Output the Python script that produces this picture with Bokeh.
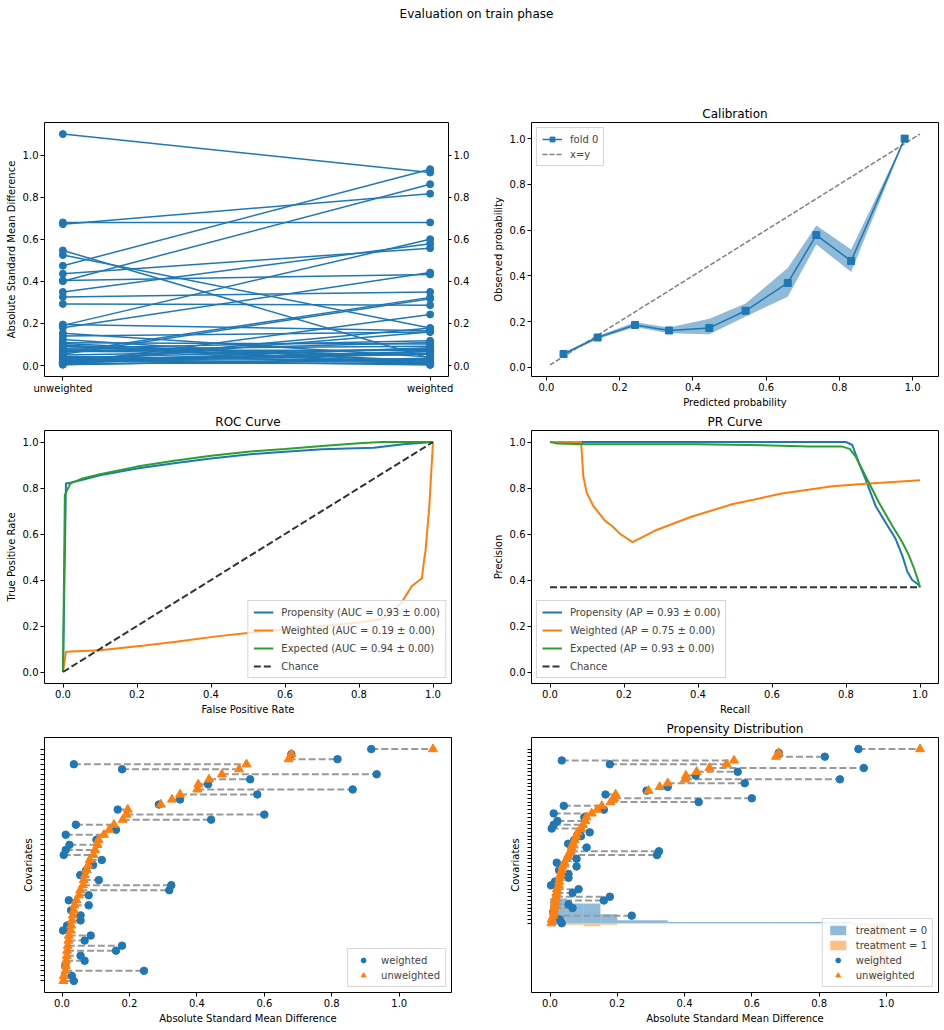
from bokeh.plotting import figure
from bokeh.models import (Range1d, FixedTicker, LinearAxis, Legend, LegendItem,
                          Label, PrintfTickFormatter, CustomJSTickFormatter)
from bokeh.layouts import column, row
from bokeh.embed import file_html
from bokeh.resources import INLINE

FONT = "DejaVu Sans"
BLUE, ORANGE, GREEN = "#1f77b4", "#ff7f0e", "#2ca02c"

# ---------------------------------------------------------------- data
# Absolute standardized mean difference per covariate, ordered by the
# unweighted value (smallest first)
smd_unweighted = [0.004, 0.005, 0.010, 0.011, 0.012, 0.014, 0.015, 0.017, 0.019, 0.020,
                  0.026, 0.027, 0.029, 0.032, 0.035, 0.037, 0.043, 0.050, 0.054, 0.062,
                  0.064, 0.068, 0.073, 0.078, 0.082, 0.093, 0.098, 0.105, 0.108, 0.124,
                  0.140, 0.154, 0.180, 0.191, 0.195, 0.293, 0.326, 0.350, 0.401, 0.404,
                  0.436, 0.474, 0.525, 0.547, 0.672, 0.680, 1.100]
smd_weighted = [0.035, 0.029, 0.243, 0.010, 0.067, 0.055, 0.160, 0.178, 0.067, 0.085,
                0.003, 0.015, 0.055, 0.055, 0.027, 0.079, 0.020, 0.079, 0.318, 0.324,
                0.109, 0.054, 0.072, 0.092, 0.118, 0.005, 0.011, 0.022, 0.102, 0.011,
                0.160, 0.041, 0.442, 0.600, 0.165, 0.287, 0.350, 0.579, 0.862, 0.433,
                0.558, 0.933, 0.178, 0.035, 0.817, 0.680, 0.917]
covariate_rows = list(range(len(smd_unweighted)))
balance_labels = ["unweighted", "weighted"]

# Calibration (fold 0)
calib_pred = [0.047, 0.140, 0.242, 0.335, 0.445, 0.544, 0.659, 0.737, 0.832, 0.978]
calib_obs = [0.058, 0.130, 0.185, 0.161, 0.172, 0.247, 0.369, 0.578, 0.465, 1.000]
calib_lo = [0.054, 0.124, 0.176, 0.149, 0.144, 0.222, 0.308, 0.537, 0.417, 0.995]
calib_hi = [0.063, 0.137, 0.197, 0.174, 0.212, 0.279, 0.434, 0.620, 0.515, 1.000]
calib_diag = [0.01, 1.02]

# ROC curves
roc_prop_fpr = [0.0, 0.008, 0.02, 0.05, 0.10, 0.20, 0.30, 0.40, 0.50, 0.60, 0.70, 0.84, 0.92, 1.0]
roc_prop_tpr = [0.0, 0.820, 0.823, 0.835, 0.855, 0.885, 0.908, 0.928, 0.946, 0.958, 0.968, 0.975, 0.990, 1.0]
roc_wt_fpr = [0.0, 0.008, 0.10, 0.22, 0.30, 0.42, 0.50, 0.60, 0.70, 0.80, 0.862, 0.90, 0.916,
              0.943, 0.964, 0.970, 0.976, 0.980, 0.990, 1.0]
roc_wt_tpr = [0.0, 0.088, 0.095, 0.115, 0.130, 0.156, 0.170, 0.185, 0.200, 0.215, 0.230, 0.280,
              0.305, 0.374, 0.400, 0.407, 0.488, 0.530, 0.720, 1.0]
roc_exp_fpr = [0.0, 0.005, 0.02, 0.05, 0.10, 0.20, 0.30, 0.40, 0.50, 0.60, 0.70, 0.80, 0.86, 1.0]
roc_exp_tpr = [0.0, 0.770, 0.820, 0.840, 0.860, 0.893, 0.918, 0.940, 0.958, 0.970, 0.983, 0.995, 1.0, 1.0]
roc_auc = {"Propensity": 0.93, "Weighted": 0.19, "Expected": 0.94}

# Precision-recall curves
pr_prop_rec = [0.0, 0.2, 0.4, 0.6, 0.78, 0.80, 0.817, 0.835, 0.853, 0.88, 0.907, 0.934,
               0.952, 0.966, 0.979, 0.997, 1.0]
pr_prop_prec = [1.0, 1.0, 1.0, 1.0, 1.0, 1.0, 0.987, 0.908, 0.837, 0.722, 0.650, 0.579,
                0.507, 0.436, 0.400, 0.378, 0.368]
pr_wt_rec = [0.0, 0.084, 0.090, 0.099, 0.117, 0.149, 0.167, 0.190, 0.223, 0.284, 0.384,
             0.492, 0.627, 0.763, 0.853, 1.0]
pr_wt_prec = [1.0, 1.0, 0.851, 0.780, 0.722, 0.657, 0.636, 0.600, 0.565, 0.615, 0.676,
              0.729, 0.776, 0.808, 0.818, 0.834]
pr_exp_rec = [0.0, 0.02, 0.10, 0.40, 0.60, 0.70, 0.79, 0.81, 0.826, 0.853, 0.889, 0.925,
              0.952, 0.970, 0.984, 0.993, 1.0]
pr_exp_prec = [1.0, 0.993, 0.990, 0.990, 0.985, 0.980, 0.980, 0.970, 0.937, 0.851, 0.737,
               0.636, 0.565, 0.507, 0.450, 0.407, 0.368]
pr_ap = {"Propensity": 0.93, "Weighted": 0.75, "Expected": 0.93}
pr_chance = 0.368

# Propensity histogram (density, bins of width 0.05)
hist_edges = [0.00, 0.05, 0.10, 0.15, 0.20, 0.25, 0.30, 0.35, 0.40, 0.45, 0.50,
              0.55, 0.60, 0.65, 0.70, 0.75, 0.80, 0.85, 0.90, 0.95, 1.00]
hist_treat0 = [6.5, 5.2, 5.2, 2.4, 0.8, 0.8, 0.8, 0.3, 0.3, 0.3, 0.3,
               0.3, 0.3, 0.3, 0.3, 0.3, 0.3, 0.3, 0.0, 0.0]
hist_treat1 = [0.4, 0.4, 0.8, 0.4, 0.1, 0.1, 0.1, 0.1, 0.1, 0.1, 0.1,
               0.1, 0.1, 0.1, 0.1, 0.1, 0.1, 0.1, 0.6, 15.2]

UNIT_TICKS = [0.0, 0.2, 0.4, 0.6, 0.8, 1.0]


# ---------------------------------------------------------------- helpers
def make_fig(xr, yr, height, left, right, top, bottom, title=None):
    p = figure(width=472, height=height, x_range=Range1d(*xr), y_range=Range1d(*yr),
               toolbar_location=None, output_backend="svg",
               min_border_left=left, min_border_right=right,
               min_border_top=top, min_border_bottom=bottom)
    if title:
        p.title.text = title
        p.title.align = "center"
        p.title.text_font = FONT
        p.title.text_font_size = "12px"
        p.title.text_font_style = "normal"
        p.title.text_color = "black"
        p.title.standoff = 4
    p.xgrid.visible = False
    p.ygrid.visible = False
    p.outline_line_color = "black"
    p.outline_line_width = 1
    p.background_fill_color = "white"
    p.border_fill_color = "white"
    p.xaxis.ticker = FixedTicker(ticks=UNIT_TICKS)
    p.yaxis.ticker = FixedTicker(ticks=UNIT_TICKS)
    p.xaxis.formatter = PrintfTickFormatter(format="%.1f")
    p.yaxis.formatter = PrintfTickFormatter(format="%.1f")
    return p


def style_axes(p):
    for ax in p.axis:
        ax.axis_line_color = None
        ax.major_tick_out = 4
        ax.major_tick_in = 0
        ax.major_tick_line_color = "black"
        ax.minor_tick_line_color = None
        ax.major_label_text_font = FONT
        ax.major_label_text_font_size = "10px"
        ax.major_label_text_color = "black"
        ax.axis_label_text_font = FONT
        ax.axis_label_text_font_size = "10px"
        ax.axis_label_text_font_style = "normal"
        ax.axis_label_text_color = "black"
        ax.major_label_standoff = 2
        ax.axis_label_standoff = 3


def add_legend(p, items, location, row_gap):
    lg = Legend(items=[LegendItem(label=t, renderers=r) for t, r in items],
                location=location)
    lg.label_text_font = FONT
    lg.label_text_font_size = "10px"
    lg.label_height = 12
    lg.glyph_height = 12
    lg.glyph_width = 20
    lg.label_standoff = 8
    lg.spacing = row_gap
    lg.padding = 5
    lg.margin = 5
    lg.border_line_color = "#cccccc"
    lg.border_line_alpha = 0.8
    lg.background_fill_alpha = 0.8
    p.add_layout(lg)


# ---------------------------------------------------------------- header
head = figure(width=944, height=100, x_range=Range1d(0, 944), y_range=Range1d(0, 100),
              toolbar_location=None, output_backend="svg", min_border=0,
              x_axis_location=None, y_axis_location=None)
head.xgrid.visible = False
head.ygrid.visible = False
head.outline_line_color = None
head.add_layout(Label(x=476, y=87, text="Evaluation on train phase", text_align="center",
                      text_baseline="middle", text_font=FONT, text_font_size="12px",
                      text_color="black"))

# ---------------------------------------------------------------- balance lines
p1 = make_fig((-0.05, 1.05), (-0.052, 1.155), 310, 44, 21, 22, 32)
p1.multi_line(xs=[[0, 1] for _ in covariate_rows],
              ys=[[u, w] for u, w in zip(smd_unweighted, smd_weighted)],
              line_color=BLUE, line_width=1.5)
p1.scatter([0] * len(smd_unweighted), smd_unweighted, size=7, color=BLUE)
p1.scatter([1] * len(smd_weighted), smd_weighted, size=7, color=BLUE)
p1.xaxis.ticker = FixedTicker(ticks=[0, 1])
p1.xaxis.major_label_overrides = {0: balance_labels[0], 1: balance_labels[1]}
p1.yaxis.axis_label = "Absolute Standard Mean Difference"
p1.add_layout(LinearAxis(ticker=FixedTicker(ticks=UNIT_TICKS),
                         formatter=PrintfTickFormatter(format="%.1f")), "right")
style_axes(p1)
p1.right[0].major_tick_out = 3

# ---------------------------------------------------------------- calibration
p2 = make_fig((-0.0405, 1.0705), (-0.0405, 1.0705), 310, 59, 6, 22, 32, "Calibration")
p2.varea(x=calib_pred, y1=calib_lo, y2=calib_hi, fill_color=BLUE, fill_alpha=0.5)
diag = p2.line(calib_diag, calib_diag, line_color="#808080", line_width=1.5, line_dash="5 2")
cl = p2.line(calib_pred, calib_obs, line_color=BLUE, line_width=1.5)
cm = p2.scatter(calib_pred, calib_obs, marker="square", size=7, color=BLUE)
p2.xaxis.axis_label = "Predicted probability"
p2.yaxis.axis_label = "Observed probability"
style_axes(p2)
add_legend(p2, [("fold 0", [cl, cm]), ("x=y", [diag])], "top_left", 3)

# ---------------------------------------------------------------- ROC
p3 = make_fig((-0.05, 1.05), (-0.05, 1.05), 307, 44, 21, 19, 32, "ROC Curve")
r_prop = p3.line(roc_prop_fpr, roc_prop_tpr, line_color=BLUE, line_width=2)
r_wt = p3.line(roc_wt_fpr, roc_wt_tpr, line_color=ORANGE, line_width=2)
r_exp = p3.line(roc_exp_fpr, roc_exp_tpr, line_color=GREEN, line_width=2)
r_ch = p3.line([0, 1], [0, 1], line_color="#333333", line_width=2, line_dash="7 3")
p3.xaxis.axis_label = "False Positive Rate"
p3.yaxis.axis_label = "True Positive Rate"
style_axes(p3)
add_legend(p3, [(f"{k} (AUC = {v:.2f} \u00b1 0.00)", [r]) for (k, v), r in
                zip(roc_auc.items(), [r_prop, r_wt, r_exp])] + [("Chance", [r_ch])],
           "bottom_right", 6)

# ---------------------------------------------------------------- PR
p4 = make_fig((-0.05, 1.05), (-0.05, 1.05), 307, 59, 6, 19, 32, "PR Curve")
q_prop = p4.line(pr_prop_rec, pr_prop_prec, line_color=BLUE, line_width=2)
q_wt = p4.line(pr_wt_rec, pr_wt_prec, line_color=ORANGE, line_width=2)
q_exp = p4.line(pr_exp_rec, pr_exp_prec, line_color=GREEN, line_width=2)
q_ch = p4.line([0, 1], [pr_chance, pr_chance], line_color="#333333", line_width=2,
               line_dash="7 3")
p4.xaxis.axis_label = "Recall"
p4.yaxis.axis_label = "Precision"
style_axes(p4)
add_legend(p4, [(f"{k} (AP = {v:.2f} \u00b1 0.00)", [r]) for (k, v), r in
                zip(pr_ap.items(), [q_prop, q_wt, q_exp])] + [("Chance", [q_ch])],
           "bottom_left", 6)


# ---------------------------------------------------------------- covariate balance
def balance_panel(p):
    lo = [min(u, w) for u, w in zip(smd_unweighted, smd_weighted)]
    hi = [max(u, w) for u, w in zip(smd_unweighted, smd_weighted)]
    p.segment(x0=lo, x1=hi, y0=covariate_rows, y1=covariate_rows,
              line_color="#999999", line_width=2, line_dash="7 3")
    sw = p.scatter(smd_weighted, covariate_rows, size=7.5, color=BLUE)
    su = p.scatter(smd_unweighted, covariate_rows, marker="triangle", size=9, color=ORANGE)
    p.yaxis.ticker = FixedTicker(ticks=covariate_rows)
    p.yaxis.axis_label = "Covariates"
    p.xaxis.axis_label = "Absolute Standard Mean Difference"
    style_axes(p)
    # covariate names are not printed, only their tick marks
    p.yaxis.formatter = CustomJSTickFormatter(code="return ''")
    p.yaxis.major_label_text_font_size = "1px"
    p.yaxis.major_label_text_color = None
    p.yaxis.major_label_standoff = 0
    p.yaxis.axis_label_standoff = 7
    return sw, su


p5 = make_fig((-0.052, 1.155), (-2.3, 48.3), 313, 44, 21, 19, 38)
sw5, su5 = balance_panel(p5)
add_legend(p5, [("weighted", [sw5]), ("unweighted", [su5])], "bottom_right", 3)

p6 = make_fig((-0.055, 1.155), (-18.3, 49.06), 313, 59, 6, 19, 38, "Propensity Distribution")
h0 = p6.quad(left=hist_edges[:-1], right=hist_edges[1:], bottom=0, top=hist_treat0,
             fill_color=BLUE, fill_alpha=0.5, line_color=None)
h1 = p6.quad(left=hist_edges[:-1], right=hist_edges[1:], bottom=[-v for v in hist_treat1],
             top=0, fill_color=ORANGE, fill_alpha=0.5, line_color=None)
sw6, su6 = balance_panel(p6)
add_legend(p6, [("treatment = 0", [h0]), ("treatment = 1", [h1]),
                ("weighted", [sw6]), ("unweighted", [su6])], "bottom_right", 3)

layout = column(head, row(p1, p2), row(p3, p4), row(p5, p6))
open("out.html", "w").write(file_html(layout, INLINE))
